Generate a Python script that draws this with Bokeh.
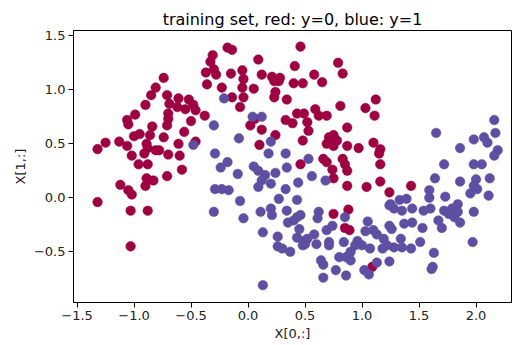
from bokeh.plotting import figure
from bokeh.models import Range1d, FixedTicker, CustomJSTickFormatter
from bokeh.embed import file_html
from bokeh.resources import INLINE

title_text = "training set, red: y=0, blue: y=1"
x_label = "X[0,:]"
y_label = "X[1,:]"
x_ticks = [-1.5, -1.0, -0.5, 0.0, 0.5, 1.0, 1.5, 2.0]
y_ticks = [-0.5, 0.0, 0.5, 1.0, 1.5]

red_x = [-0.74, -0.81, -0.85, -0.90, -0.99, -1.06, -1.05, -0.71, -0.69, -0.70, -0.70, -0.71,
         -0.61, -0.62, -0.52, -0.48, -0.55, -0.46, -0.38, -0.50, -0.33, -0.31, -0.37, -0.36,
         -0.18, -0.14, 0.46, -0.30, -0.28, -0.23, -0.15, -0.05, -0.04, -0.05, 0.05, 0.09,
         0.12, 0.21, 0.28, 0.23, 0.27, 0.24, 0.23, 0.34, 0.41, 0.40, 0.48, 0.58, 0.65, 0.79,
         0.83, 0.81, -0.14, -0.04, -0.07, 0.06, 0.33, 0.43, 0.49, 0.59, 0.62, 0.69, 1.12,
         1.03, 1.11, -0.84, -1.00, -0.95, -0.86, -0.74, -0.56, -0.46, -1.25, -1.32, -1.13,
         -1.06, -0.89, -0.88, -0.81, -0.78, -0.91, -1.02, -0.70, -0.61, -0.60, -0.96, -0.88,
         -0.58, -0.71, -0.89, -0.83, -0.90, -1.12, -1.05, -1.02, -1.32, 0.02, 0.12, 0.24,
         0.10, 0.39, 0.52, 0.53, 0.48, 0.87, 0.71, 0.75, 0.78, 0.69, 0.75, 0.87, 0.66, 0.69,
         0.83, 0.85, 0.46, 0.74, 0.75, 0.87, 0.87, 0.97, 1.10, 1.16, 1.15, 1.16, 1.04, 1.16,
         1.24, 1.43, -1.03, -0.88, -1.03, 0.75, 0.88, 0.85, 0.89, 1.09]
red_y = [1.11, 1.02, 0.95, 0.86, 0.77, 0.72, 0.68, 0.95, 0.87, 0.78, 0.73, 0.67,
         0.92, 0.84, 0.91, 0.86, 0.82, 0.81, 0.76, 0.71, 1.26, 1.32, 1.16, 1.05,
         1.39, 1.37, 1.40, 1.19, 1.14, 1.02, 1.15, 1.18, 1.10, 1.02, 1.01, 1.28,
         1.14, 1.12, 1.11, 1.08, 1.08, 0.98, 0.93, 0.91, 1.22, 1.06, 1.06, 1.14, 1.07, 1.25,
         1.15, 0.85, 0.93, 0.93, 0.84, 0.73, 0.72, 0.78, 0.78, 0.82, 0.76, 0.76, 0.91,
         0.83, 0.76, 0.66, 0.57, 0.59, 0.58, 0.56, 0.61, 0.52, 0.51, 0.45, 0.52,
         0.48, 0.50, 0.46, 0.44, 0.44, 0.41, 0.39, 0.40, 0.50, 0.39, 0.31, 0.31,
         0.26, 0.20, 0.18, 0.16, 0.11, 0.12, 0.07, 0.03, -0.04, 0.67, 0.63, 0.58,
         0.49, 0.69, 0.70, 0.62, 0.53, 0.65, 0.56, 0.58, 0.53, 0.50, 0.48, 0.48, 0.36, 0.33,
         0.36, 0.31, 0.31, 0.26, 0.18, 0.25, 0.11, 0.46, 0.51, 0.45, 0.41, 0.31, 0.10, 0.15,
         0.05, 0.11, -0.12, -0.12, -0.45, -0.15, -0.11, -0.28, -0.30, -0.64]

blue_x = [-0.21, 0.04, 0.12, -0.48, -0.30, -0.29, -0.08, 0.20, 0.18, 0.33, -0.18, -0.24,
          0.05, 0.09, 0.24, 0.34, 0.53, -0.09, 0.15, 0.12, 0.20, 0.09, 0.44, 0.56, 0.68,
          -0.29, -0.23, -0.17, 0.33, -0.07, 0.27, 0.43, 2.16, 1.65, 2.17, 1.98, 2.07, 2.10,
          1.86, 2.19, 2.16, 1.72, 1.98, 2.05, 1.64, 1.86, 2.00, 1.98, 2.01, 2.12, 1.59, 1.59,
          1.73, 1.95, 2.11, 1.33, 1.39, 1.25, 1.84, -0.30, -0.04, 0.11, 0.20, 0.21, 0.34,
          0.43, 0.46, 0.35, 0.40, 0.13, 0.26, 0.45, 0.43, 0.49, 0.52, 0.26, 0.30, 0.37, 0.48,
          0.50, 0.58, 0.60, 0.62, 0.61, 0.69, 0.74, 0.71, 0.71, 0.64, 0.66, 0.80, 0.77, 0.66,
          0.86, 0.84, 0.85, 0.86, 0.13, 0.90, 0.90, 1.05, 1.03, 0.96, 1.00, 0.94, 1.07, 1.10,
          1.13, 1.19, 1.18, 1.24, 1.26, 1.22, 1.28, 1.13, 1.24, 1.02, 1.06, 1.24, 1.28, 1.35,
          1.44, 1.37, 1.44, 1.34, 1.35, 1.43, 1.53, 1.51, 1.54, 1.60, 1.63, 1.62, 1.61, 1.67,
          1.70, 1.72, 1.76, 1.79, 1.81, 1.84, 1.86, 1.98, 1.97]
blue_y = [0.92, 0.75, 0.75, 0.49, 0.67, 0.41, 0.55, 0.52, 0.41, 0.41, 0.33, 0.28,
          0.29, 0.25, 0.23, 0.28, 0.36, 0.22, 0.21, 0.16, 0.13, 0.10, 0.14, 0.20, 0.16,
          0.08, 0.08, 0.07, 0.08, -0.03, -0.01, -0.02, 0.72, 0.60, 0.60, 0.54, 0.56, 0.51,
          0.46, 0.44, 0.39, 0.31, 0.31, 0.31, 0.18, 0.15, 0.17, 0.11, 0.08, 0.18, 0.07, 0.00,
          0.01, 0.04, 0.02, -0.02, -0.01, -0.06, -0.06, -0.13, -0.19, -0.13, -0.10, -0.16, -0.12,
          -0.18, -0.16, -0.23, -0.21, -0.32, -0.36, -0.29, -0.37, -0.40, -0.38, -0.45, -0.47, -0.50, -0.44,
          -0.43, -0.34, -0.43, -0.13, -0.19, -0.30, -0.26, -0.41, -0.44, -0.58, -0.62, -0.55, -0.67, -0.74,
          -0.72, -0.41, -0.18, -0.55, -0.81, -0.50, -0.58, -0.22, -0.31, -0.40, -0.44, -0.44, -0.47, -0.30,
          -0.34, -0.38, -0.47, -0.26, -0.29, -0.44, -0.46, -0.60, -0.59, -0.67, -0.71, -0.07, -0.10, -0.12,
          -0.10, -0.24, -0.23, -0.38, -0.46, -0.47, -0.28, -0.41, -0.12, -0.10, -0.51, -0.64, -0.66, -0.21,
          -0.28, -0.12, -0.15, -0.10, -0.18, -0.13, -0.23, -0.13, -0.41]

RED = "#9e0142"
BLUE = "#5e4fa2"
FONT = "DejaVu Sans"

p = figure(width=516, height=345, output_backend="svg", toolbar_location=None,
           x_range=Range1d(-1.531, 2.311), y_range=Range1d(-0.970, 1.549),
           min_border_left=73, min_border_right=5, min_border_top=30, min_border_bottom=43,
           title=title_text)
p.title.align = "center"
p.title.text_font = FONT
p.title.text_font_size = "16px"
p.title.text_font_style = "normal"
p.title.text_color = "#000000"
p.title.standoff = 4

p.scatter(red_x, red_y, size=9.6, fill_color=RED, line_color=RED, line_width=0.5)
p.scatter(blue_x, blue_y, size=9.6, fill_color=BLUE, line_color=BLUE, line_width=0.5)

p.xgrid.visible = False
p.ygrid.visible = False
p.outline_line_color = "#000000"
p.outline_line_width = 1
p.background_fill_color = "white"
p.border_fill_color = "white"

fmt = CustomJSTickFormatter(code="return tick.toFixed(1).replace('-', '\\u2212');")
for ax, ticks, lab in ((p.xaxis[0], x_ticks, x_label), (p.yaxis[0], y_ticks, y_label)):
    ax.ticker = FixedTicker(ticks=ticks)
    ax.formatter = fmt
    ax.axis_label = lab
    ax.axis_label_text_font = FONT
    ax.axis_label_text_font_size = "13px"
    ax.axis_label_text_font_style = "normal"
    ax.axis_label_text_color = "#222222"
    ax.axis_label_standoff = 3
    ax.major_label_text_font = FONT
    ax.major_label_text_font_size = "13px"
    ax.major_label_text_color = "#222222"
    ax.major_label_standoff = 3
    ax.major_tick_out = 5
    ax.major_tick_in = 0
    ax.minor_tick_out = 0
    ax.minor_tick_in = 0
    ax.axis_line_color = "#000000"
    ax.major_tick_line_color = "#000000"

open("out.html", "w").write(file_html(p, INLINE))
